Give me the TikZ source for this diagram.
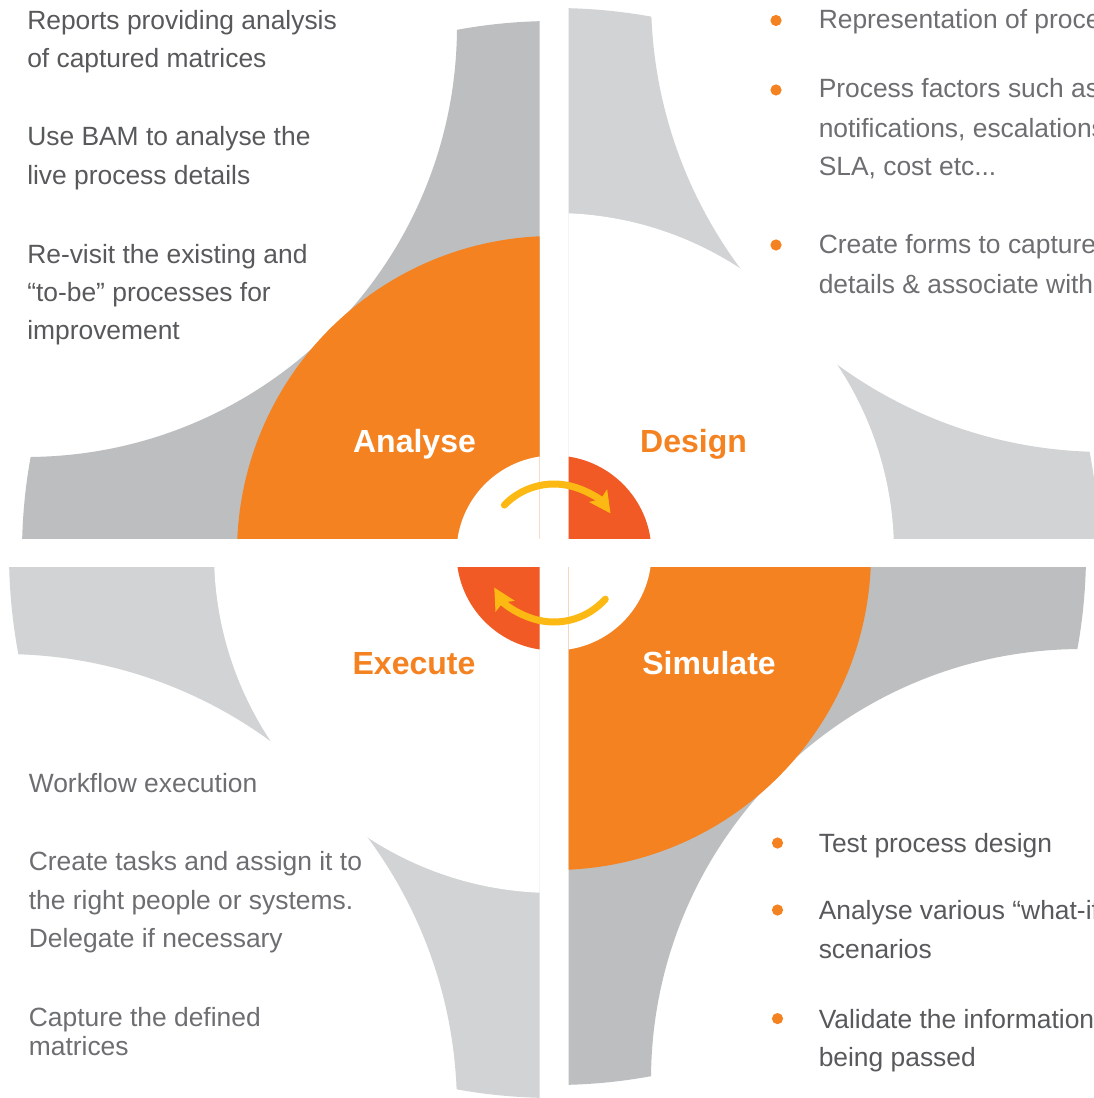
\documentclass[tikz,border=0pt]{standalone}
\usepackage{fontspec}
\setmainfont{Liberation Sans}
\usetikzlibrary{arrows.meta}
\definecolor{dgray}{HTML}{BCBEC0}
\definecolor{lgray}{HTML}{D1D3D4}
\definecolor{orng}{HTML}{F58220}
\definecolor{redor}{HTML}{F15A24}
\definecolor{yel}{HTML}{FDB913}
\definecolor{txtd}{HTML}{58595B}
\definecolor{txtl}{HTML}{6D6E71}
\begin{document}
\begin{tikzpicture}[x=0.75pt,y=-0.75pt,
  body/.style={anchor=base west, inner sep=0pt, font=\fontsize{19.8}{29}\selectfont},
  ttl/.style={anchor=base, inner sep=0pt, font=\fontsize{24}{29}\selectfont\bfseries},
  bul/.style={circle, fill=orng, inner sep=0pt, minimum size=8.4pt},
  cyc/.style={draw=yel, line width=5.25pt, line cap=round, -{Stealth[length=16pt,width=16pt,inset=3pt]}}
]
\clip (0,0) rectangle (1094,1098);
\fill[white] (0,0) rectangle (1094,1098);
\coordinate (ctr) at (554,553);

% ---------- top-left quadrant ----------
\begin{scope}
  \clip (0,0) rectangle (539.5,538.3);
  \begin{scope}
    \clip (ctr) circle[radius=532];
    \fill[dgray, even odd rule] (-10,-10) rectangle (1100,1100) (26,26) circle[radius=431];
  \end{scope}
  \fill[orng] (ctr) circle[radius=317];
  \fill[white] (ctr) circle[radius=97.5];
\end{scope}

% ---------- top-right quadrant ----------
\begin{scope}
  \clip (568.5,0) rectangle (1100,538.3);
  \begin{scope}
    \clip (ctr) circle[radius=545];
    \fill[lgray, even odd rule] (-10,-10) rectangle (1100,1100) (1105,-2) circle[radius=454];
  \end{scope}
  \fill[white] (ctr) circle[radius=340];
  \fill[redor] (ctr) circle[radius=97.5];
\end{scope}

% ---------- bottom-left quadrant ----------
\begin{scope}
  \clip (0,567.7) rectangle (539.5,1100);
  \begin{scope}
    \clip (ctr) circle[radius=545];
    \fill[lgray, even odd rule] (-10,-10) rectangle (1100,1100) (3,1108) circle[radius=454];
  \end{scope}
  \fill[white] (ctr) circle[radius=340];
  \fill[redor] (ctr) circle[radius=97.5];
\end{scope}

% ---------- bottom-right quadrant ----------
\begin{scope}
  \clip (568.5,567.7) rectangle (1100,1100);
  \begin{scope}
    \clip (ctr) circle[radius=532];
    \fill[dgray, even odd rule] (-10,-10) rectangle (1100,1100) (1082,1080) circle[radius=431];
  \end{scope}
  \fill[orng] (ctr) circle[radius=317];
  \fill[white] (ctr) circle[radius=97.5];
\end{scope}

% ---------- cycle arrows ----------
\draw[cyc] (ctr) ++(224:69) arc[start angle=224, end angle=325, radius=69];
\draw[cyc] (ctr) ++(42:69) arc[start angle=42, end angle=150, radius=69];

% ---------- titles ----------
\node[ttl, text=white] (tAnalyse) at (414.5,452) {Analyse};
\node[ttl, text=orng] (tDesign) at (693.5,452) {Design};
\node[ttl, text=orng] (tExecute) at (414,674) {Execute};
\node[ttl, text=white] (tSimulate) at (709,674) {Simulate};

% ---------- top-left text ----------
\begin{scope}[every node/.append style={text=txtd}]
\node[body] (a1) at (27,29.6) {Reports providing analysis};
\node[body] (a2) at (27,68) {of captured matrices};
\node[body] (a3) at (27,145.7) {Use BAM to analyse the};
\node[body] (a4) at (27,185) {live process details};
\node[body] (a5) at (27,263.3) {Re-visit the existing and};
\node[body] (a6) at (27,301.5) {“to-be” processes for};
\node[body] (a7) at (27,339.5) {improvement};
\end{scope}

% ---------- top-right text ----------
\node[bul] (db1) at (776,20.5) {};
\node[bul] (db2) at (776,90) {};
\node[bul] (db3) at (776,245) {};
\begin{scope}[every node/.append style={text=txtl}]
\node[body] (d1) at (818.5,29) {Representation of process};
\node[body] (d2) at (818.5,98) {Process factors such as};
\node[body] (d3) at (818.5,137.5) {notifications, escalations,};
\node[body] (d4) at (818.5,176) {SLA, cost etc...};
\node[body] (d5) at (818.5,253.6) {Create forms to capture};
\node[body] (d6) at (818.5,293) {details \& associate with};
\end{scope}

% ---------- bottom-left text ----------
\begin{scope}[every node/.append style={text=txtl}]
\node[body] (e1) at (28.6,792) {Workflow execution};
\node[body] (e2) at (28.6,870) {Create tasks and assign it to};
\node[body] (e3) at (28.6,909) {the right people or systems.};
\node[body] (e4) at (28.6,947) {Delegate if necessary};
\node[body] (e5) at (28.6,1026) {Capture the defined};
\node[body] (e6) at (28.6,1055) {matrices};
\end{scope}

% ---------- bottom-right text ----------
\node[bul] (sb1) at (777.5,843) {};
\node[bul] (sb2) at (777.5,910) {};
\node[bul] (sb3) at (777.5,1018.6) {};
\begin{scope}[every node/.append style={text=txtd}]
\node[body] (s1) at (818.5,852.5) {Test process design};
\node[body] (s2) at (818.5,919.6) {Analyse various “what-if”};
\node[body] (s3) at (818.5,958.6) {scenarios};
\node[body] (s4) at (818.5,1028) {Validate the information};
\node[body] (s5) at (818.5,1066.8) {being passed};
\end{scope}
\end{tikzpicture}
\end{document}
